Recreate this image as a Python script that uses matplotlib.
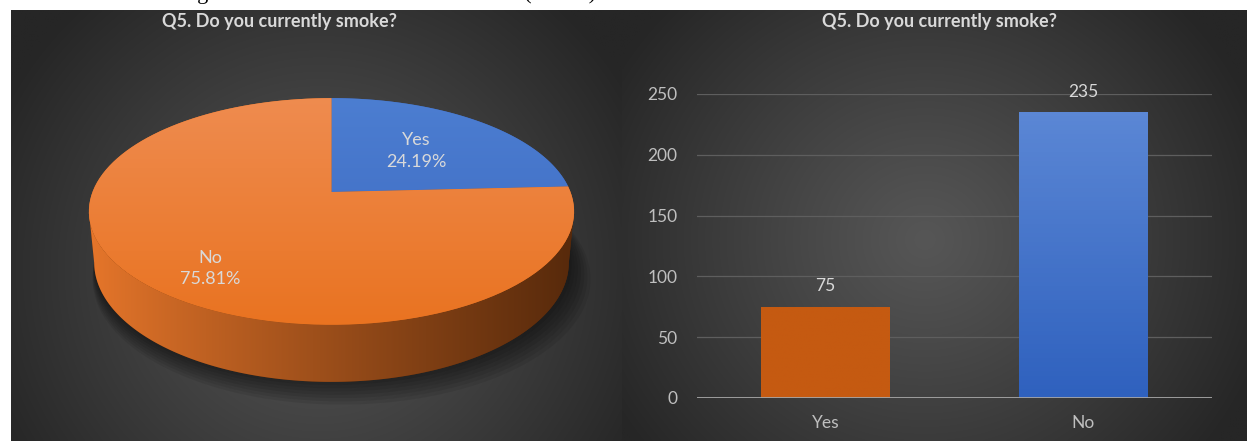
"""Smoking survey: 3D-style pie and bar chart on dark gradient panels."""

import numpy as np
import matplotlib
matplotlib.use("Agg")
import matplotlib.pyplot as plt
from matplotlib.patches import Polygon
from matplotlib.colors import to_rgb

categories = ["Yes", "No"]
counts = [75, 235]
y_ticks = [0, 50, 100, 150, 200, 250]
chart_title = "Q5. Do you currently smoke?"
caption = "Smoking Status of the Students Interviewed (n=310)"

FIG_W, FIG_H = 1248, 441
plt.rcParams["font.family"] = ["Lato", "DejaVu Sans"]

TEXT = "#d9d9d9"
TICK = "#bfbfbf"
# (light, dark) pairs
TOP_COLORS = {"Yes": ("#4d7fd2", "#3b67bf"), "No": ("#ef8d52", "#e9721f")}
SIDE_COLORS = {"Yes": ("#4472c4", "#1e3768"), "No": ("#e8772b", "#56290b")}
BAR_COLORS = {"Yes": ("#c55a11", "#c55a11"), "No": ("#5b87d5", "#2f61be")}

# 3D pie geometry (unit radius disc, camera tilted down)
TILT = np.radians(27.4)
DIST = 5.174
THICK = 0.2423
PIE_CENTER_PX = (331.5, 192.0)
PIE_SCALE_PX = 239.0


def px_rect(x0, y0, x1, y1):
    """Figure-fraction rect from pixel box (y measured from the top)."""
    return [x0 / FIG_W, 1 - y1 / FIG_H, (x1 - x0) / FIG_W, (y1 - y0) / FIG_H]


def project(X, Y, Z):
    s, c = np.sin(TILT), np.cos(TILT)
    yc = Y * s + Z * c
    zc = DIST + Y * c - Z * s
    return DIST * X / zc, DIST * yc / zc


def rim(phi, z=0.0, rho=1.0):
    phi = np.radians(phi)
    return project(rho * np.sin(phi), rho * np.cos(phi), z * np.ones_like(phi))


def lerp(c0, c1, t):
    c0, c1 = np.array(to_rgb(c0)), np.array(to_rgb(c1))
    return c0 + (c1 - c0) * t


def vertical_gradient(top, bottom, n=64):
    return np.array([lerp(top, bottom, v) for v in np.linspace(0, 1, n)])[:, None, :]


def horizontal_gradient(left, right, n=256, gamma=1.0):
    t = np.linspace(0, 1, n) ** gamma
    return np.array([lerp(left, right, v) for v in t])[None, :, :]


fig = plt.figure(figsize=(FIG_W / 100, FIG_H / 100), dpi=100, facecolor="white")

# background panels
bg = fig.add_axes([0, 0, 1, 1])
bg.axis("off")


def radial_panel(x0, x1, y0, y1, cx, cy, rx, ry, inner=0x56, outer=0x26):
    xs = np.linspace(x0, x1, 320)
    ys = np.linspace(y0, y1, 220)
    X, Y = np.meshgrid(xs, ys)
    r = np.hypot((X - cx) / rx, (Y - cy) / ry)
    t = np.clip(r, 0, 1) ** 1.1
    img = (inner + (outer - inner) * t) / 255
    bg.imshow(np.dstack([img, img, img]), extent=(x0, x1, y1, y0),
              origin="upper", aspect="auto", interpolation="bilinear")


radial_panel(11, 622, 10, FIG_H, 320, 270, 360, 360)
radial_panel(622, 1247, 10, FIG_H, 925, 240, 360, 340)
bg.set_xlim(0, FIG_W)
bg.set_ylim(FIG_H, 0)

# caption of the page above, mostly off the top edge
fig.text(128 / FIG_W, 1 + 1 / FIG_H, caption, family="Liberation Serif",
         fontsize=16, color="black", va="baseline", ha="left")

for cx in (280, 940):
    fig.text(cx / FIG_W, 1 - 21 / FIG_H, chart_title, color=TEXT, fontsize=13,
             fontweight="bold", ha="center", va="center")

# ---- pie ----
xl, yl = (-1.3, 1.3), (-1.0, 0.75)
cxp, cyp = PIE_CENTER_PX
ax = fig.add_axes(px_rect(cxp + xl[0] * PIE_SCALE_PX, cyp - yl[1] * PIE_SCALE_PX,
                          cxp + xl[1] * PIE_SCALE_PX, cyp - yl[0] * PIE_SCALE_PX))
ax.axis("off")

shares = np.array(counts) / sum(counts)
edges = np.concatenate([[0], np.cumsum(shares) * 360])

# soft shadow under the disc
full = np.linspace(0, 360, 200)
sx, sy = rim(full, -THICK)
for k in range(8):
    sc = 1.0 + 0.007 * k
    ax.add_patch(Polygon(np.column_stack([sx * sc + 0.006 * k, sy * sc - 0.008 * k]),
                         closed=True, facecolor="black", edgecolor="none",
                         alpha=0.08, zorder=1))

# visible side wall, one piece per slice
phi_vis = np.degrees(np.arccos(-np.cos(TILT) / DIST))
for i, cat in enumerate(categories):
    a = max(edges[i], phi_vis)
    b = min(edges[i + 1], 360 - phi_vis)
    if b <= a:
        continue
    ang = np.linspace(a, b, 160)
    tx, ty = rim(ang, 0.0)
    lx, ly = rim(ang[::-1], -THICK)
    side = Polygon(np.column_stack([np.r_[tx, lx], np.r_[ty, ly]]), closed=True,
                   facecolor=SIDE_COLORS[cat][1], edgecolor="none", zorder=2)
    ax.add_patch(side)
    light, dark = SIDE_COLORS[cat]
    im = ax.imshow(horizontal_gradient(light, dark, gamma=0.9),
                   extent=(-1.03, 1.03, -1.0, 0.1), origin="upper",
                   aspect="auto", zorder=2.5, interpolation="bilinear")
    im.set_clip_path(side)

# top faces with gradient fill
for i, cat in enumerate(categories):
    arc = np.linspace(edges[i], edges[i + 1], 120)
    ux, uy = rim(arc, 0.0)
    face = Polygon(np.column_stack([np.r_[0.0, ux], np.r_[0.0, uy]]), closed=True,
                   facecolor=TOP_COLORS[cat][1], edgecolor="none", zorder=3)
    ax.add_patch(face)
    top_c, bot_c = TOP_COLORS[cat]
    im = ax.imshow(vertical_gradient(top_c, bot_c), extent=(-1.1, 1.1, -0.6, 0.45),
                   origin="upper", aspect="auto", zorder=4, interpolation="bilinear")
    im.set_clip_path(face)

ax.set_xlim(*xl)
ax.set_ylim(*yl)

# data labels
label_rho = [0.55, 0.77]
label_shift = [0.0, -7.5]
for i, cat in enumerate(categories):
    mid = (edges[i] + edges[i + 1]) / 2 + label_shift[i]
    lx, ly = rim(np.array([mid]), 0.0, label_rho[i])
    ax.text(lx[0], ly[0], f"{cat}\n{shares[i] * 100:.2f}%", color=TEXT,
            fontsize=13, ha="center", va="center", linespacing=1.4, zorder=5)

# ---- bar chart ----
bx = fig.add_axes(px_rect(697, 94, 1212, 398))
bx.set_facecolor("none")
xpos = np.arange(len(categories))
bars = bx.bar(xpos, counts, width=0.5,
              color=[BAR_COLORS[c][1] for c in categories], zorder=3)
for bar, cat in zip(bars, categories):
    top_c, bot_c = BAR_COLORS[cat]
    im = bx.imshow(vertical_gradient(top_c, bot_c),
                   extent=(bar.get_x(), bar.get_x() + bar.get_width(), 0, bar.get_height()),
                   origin="upper", aspect="auto", zorder=4)
    im.set_clip_path(bar)
bx.bar_label(bars, labels=[str(v) for v in counts], padding=9,
             color=TEXT, fontsize=12.5)

bx.set_xlim(-0.5, len(categories) - 0.5)
bx.set_ylim(0, 250)
bx.set_yticks(y_ticks)
bx.set_xticks(xpos)
bx.set_xticklabels(categories)
bx.tick_params(axis="both", length=0, colors=TICK, labelsize=12.5)
bx.tick_params(axis="y", pad=14)
bx.tick_params(axis="x", pad=12)
bx.grid(axis="y", color="#5e5e5e", linewidth=0.9, zorder=0)
bx.set_axisbelow(True)
for sp in bx.spines.values():
    sp.set_visible(False)
bx.axhline(0, color="#a6a6a6", linewidth=2, zorder=5)

fig.savefig("out.png", dpi=100, facecolor="white")
